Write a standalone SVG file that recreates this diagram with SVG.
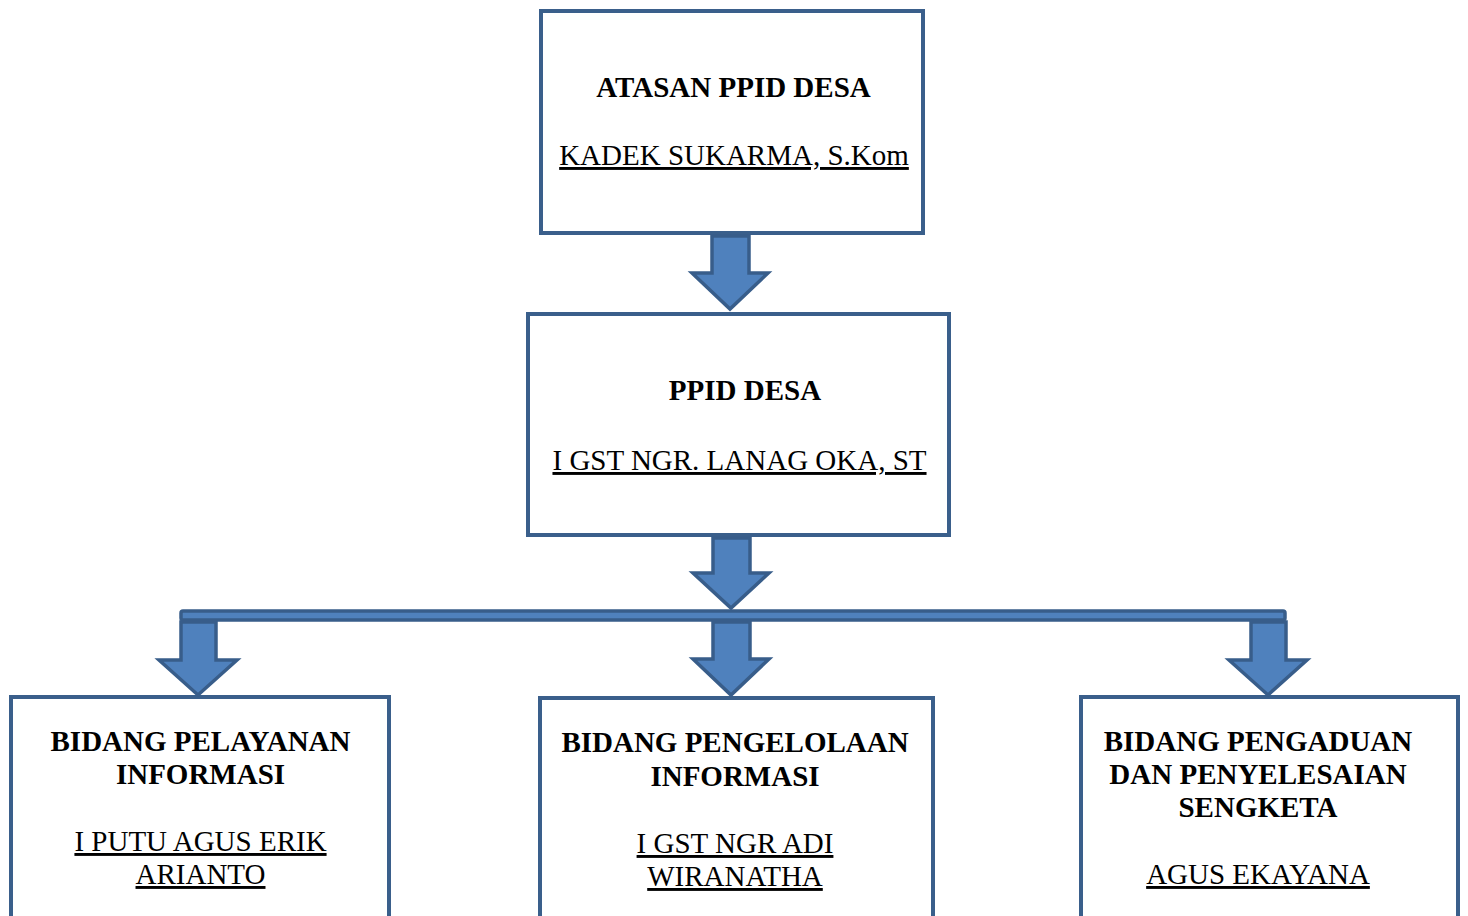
<svg xmlns="http://www.w3.org/2000/svg" width="1468" height="916" viewBox="0 0 1468 916">
<style>
.box{fill:#ffffff;stroke:#3A5F8B;stroke-width:4}
.arr{fill:#4F81BD;stroke:#385D8A;stroke-width:3.5;stroke-linejoin:miter}
.t{font-family:"Liberation Serif","Times New Roman",serif;font-size:29px;fill:#000;text-anchor:middle}
.b{font-weight:bold}
.u{text-decoration:underline}
</style>
<rect width="1468" height="916" fill="#ffffff"/>
<g id="n1">
<rect class="box" x="541" y="11" width="382" height="222"/>
<text class="t b" x="733.5" y="97">ATASAN PPID DESA</text>
<text class="t u" x="734" y="165">KADEK SUKARMA, S.Kom</text>
</g>
<g id="n2">
<rect class="box" x="528" y="314" width="421" height="221"/>
<text class="t b" x="745" y="400">PPID DESA</text>
<text class="t u" x="739.5" y="470">I GST NGR. LANAG OKA, ST</text>
</g>
<g id="n3">
<rect class="box" x="11" y="697" width="378" height="240"/>
<text class="t b" x="200.5" y="751">BIDANG PELAYANAN</text>
<text class="t b" x="200.5" y="784">INFORMASI</text>
<text class="t u" x="200.5" y="851">I PUTU AGUS ERIK</text>
<text class="t u" x="200.5" y="884">ARIANTO</text>
</g>
<g id="n4">
<rect class="box" x="540" y="698" width="393" height="240"/>
<text class="t b" x="735" y="752">BIDANG PENGELOLAAN</text>
<text class="t b" x="735" y="786">INFORMASI</text>
<text class="t u" x="735" y="853">I GST NGR ADI</text>
<text class="t u" x="735" y="886">WIRANATHA</text>
</g>
<g id="n5">
<rect class="box" x="1081" y="697" width="377" height="240"/>
<text class="t b" x="1258" y="751">BIDANG PENGADUAN</text>
<text class="t b" x="1258" y="784">DAN PENYELESAIAN</text>
<text class="t b" x="1258" y="817">SENGKETA</text>
<text class="t u" x="1258" y="884">AGUS EKAYANA</text>
</g>
<g id="connectors">
<polygon class="arr" points="712,236 749,236 749,273 768,273 730,309 692,273 712,273"/>
<polygon class="arr" points="713,538 750,538 750,573 769,573 731,608 693,573 713,573"/>
<rect class="arr" x="181" y="611" width="1104" height="9" rx="2"/>
<polygon class="arr" points="181,622 216,622 216,660 237,660 198,695 159,660 181,660"/>
<polygon class="arr" points="713,622 750,622 750,659 769,659 731,695 693,659 713,659"/>
<polygon class="arr" points="1251,622 1286,622 1286,660 1307,660 1268,695 1229,660 1251,660"/>
</g>
</svg>
